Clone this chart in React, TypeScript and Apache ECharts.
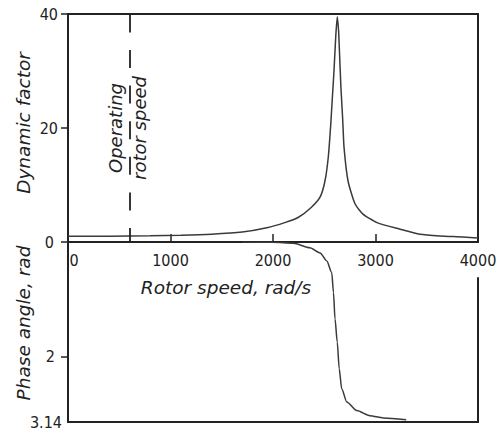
import React, { useEffect, useRef } from 'react';
import * as echarts from 'echarts';

// Rotor speed axis (rad/s)
const speedTicks = [0, 1000, 2000, 3000, 4000];
const operatingSpeed = 600;

// Dynamic factor curve
const dfSpeeds = [0, 400, 800, 1100, 1400, 1700, 1940, 2115, 2245, 2370, 2460, 2507, 2540, 2563, 2578, 2595, 2612, 2627, 2640, 2647, 2663, 2680, 2693, 2732, 2800, 2878, 3015, 3240, 3434, 3630, 3850, 4000];
const dfValues = [1.0, 1.03, 1.1, 1.2, 1.38, 1.75, 2.5, 3.4, 4.3, 6.0, 7.9, 10.7, 15.0, 20.5, 25, 30, 36, 39.5, 37, 34, 27, 21.5, 16.6, 10.7, 6.7, 4.9, 3.4, 2.24, 1.36, 1.06, 0.88, 0.7];

// Phase angle curve (rad)
const phaseSpeeds = [1700, 2000, 2200, 2360, 2460, 2525, 2573, 2590, 2605, 2627, 2646, 2670, 2720, 2817, 2946, 3076, 3300];
const phaseValues = [0, 0.005, 0.02, 0.1, 0.19, 0.33, 0.53, 0.88, 1.34, 1.75, 2.21, 2.56, 2.79, 2.94, 3.03, 3.07, 3.1];

const dfTicks = [0, 20, 40];
const phaseLabels = [2, 3.14];
const phaseTicks = [2];

const ink = '#222';
const curve = '#3a3a3a';
const titleFont = 'DejaVu Sans';
const tickFont = 'DejaVu Sans Condensed';

export default function App() {
  const ref = useRef<HTMLDivElement>(null);
  useEffect(() => {
    document.body.style.margin = '0';
    const chart = echarts.init(ref.current!, null, { renderer: 'svg' });
    const lineOnly = (extra: any) => ({
      type: 'value',
      axisLine: { show: true, onZero: false, lineStyle: { color: ink, width: 2 } },
      axisTick: { show: false },
      axisLabel: { show: false },
      splitLine: { show: false },
      ...extra,
    });
    const tickText = { color: ink, fontFamily: tickFont, fontSize: 16 };
    const noteText = { fontFamily: titleFont, fontStyle: 'italic', fontSize: 18, color: ink };
    const option: any = {
      animation: false,
      backgroundColor: '#fff',
      grid: [
        { left: 68, top: 14, width: 410, height: 228 },
        { left: 68, top: 242, width: 410, height: 180 },
        { left: 68, top: 278, width: 410, height: 144 },
      ],
      xAxis: [
        {
          gridIndex: 0,
          type: 'value',
          min: speedTicks[0],
          max: speedTicks[speedTicks.length - 1],
          interval: 1000,
          position: 'bottom',
          axisLine: { show: true, onZero: false, lineStyle: { color: ink, width: 2 } },
          axisTick: { show: true, inside: true, length: 8, lineStyle: { color: ink, width: 1.5 } },
          axisLabel: {
            margin: 10,
            ...tickText,
            formatter: (v: number) => (v === 0 ? '{l|0}' : String(v)),
            rich: { l: { ...tickText, padding: [0, 0, 0, 12] } },
          },
          splitLine: { show: false },
          name: 'Rotor speed, rad/s',
          nameLocation: 'middle',
          nameGap: 36,
          nameMoveOverlap: false,
          nameTextStyle: {
            fontFamily: titleFont,
            fontStyle: 'italic',
            fontSize: 18.5,
            color: ink,
            padding: [0, 94, 0, 0],
          },
        },
        lineOnly({ gridIndex: 0, min: 0, max: 4000, position: 'top' }),
        lineOnly({ gridIndex: 1, min: 0, max: 4000, position: 'bottom' }),
        { gridIndex: 2, type: 'value', min: 0, max: 4000, show: false },
      ],
      yAxis: [
        {
          gridIndex: 0,
          type: 'value',
          min: dfTicks[0],
          max: dfTicks[dfTicks.length - 1],
          interval: 20,
          axisLine: { show: true, onZero: false, lineStyle: { color: ink, width: 2 } },
          axisTick: { show: true, length: 7, lineStyle: { color: ink, width: 1.5 } },
          axisLabel: {
            margin: 10,
            ...tickText,
            formatter: (v: number) => (v === 0 ? '{p|0}' : String(v)),
            rich: { p: { ...tickText, padding: [0, 4, 0, 0] } },
          },
          splitLine: { show: false },
          name: 'Dynamic factor',
          nameLocation: 'middle',
          nameRotate: 90,
          nameGap: 35,
          nameMoveOverlap: false,
          nameTextStyle: {
            fontFamily: titleFont,
            fontStyle: 'italic',
            fontSize: 18.5,
            color: ink,
            padding: [0, 0, 0, 10],
          },
        },
        lineOnly({ gridIndex: 0, min: 0, max: 40, position: 'right' }),
        {
          gridIndex: 1,
          type: 'value',
          min: 0,
          max: 3.14,
          inverse: true,
          axisLine: { show: true, onZero: false, lineStyle: { color: ink, width: 2 } },
          axisTick: { show: true, length: 7, customValues: phaseTicks, lineStyle: { color: ink, width: 1.5 } },
          axisLabel: {
            margin: 6,
            ...tickText,
            customValues: phaseLabels,
            formatter: (v: number) => (v === 2 ? '{p|2}' : String(v)),
            rich: { p: { ...tickText, padding: [0, 7, 0, 0] } },
          },
          splitLine: { show: false },
          name: 'Phase angle, rad',
          nameLocation: 'middle',
          nameRotate: 90,
          nameGap: 35,
          nameMoveOverlap: false,
          nameTextStyle: {
            fontFamily: titleFont,
            fontStyle: 'italic',
            fontSize: 18.5,
            color: ink,
            padding: [0, 0, 0, 18],
          },
        },
        lineOnly({ gridIndex: 2, min: 0, max: 1, position: 'right' }),
      ],
      series: [
        {
          name: 'Dynamic factor',
          type: 'line',
          xAxisIndex: 0,
          yAxisIndex: 0,
          showSymbol: false,
          symbol: 'none',
          smooth: 0.2,
          lineStyle: { color: curve, width: 1.5 },
          data: dfSpeeds.map((s, i) => [s, dfValues[i]]),
          markLine: {
            silent: true,
            symbol: ['none', 'none'],
            data: [
              [
                {
                  coord: [operatingSpeed, 0],
                  lineStyle: { color: ink, width: 1.8, type: [18, 17.6], dashOffset: 4 },
                  label: { show: true, position: 'insideMiddleTop', formatter: 'Operating', distance: 5, ...noteText },
                },
                { coord: [operatingSpeed, 40] },
              ],
              [
                {
                  coord: [operatingSpeed, 0],
                  lineStyle: { color: 'rgba(0,0,0,0)', width: 1 },
                  label: { show: true, position: 'insideMiddleBottom', formatter: 'rotor speed', distance: 1, ...noteText },
                },
                { coord: [operatingSpeed, 40] },
              ],
            ],
          },
        },
        {
          name: 'Phase angle',
          type: 'line',
          xAxisIndex: 2,
          yAxisIndex: 2,
          showSymbol: false,
          symbol: 'none',
          smooth: 0.25,
          smoothMonotone: 'x',
          lineStyle: { color: curve, width: 1.5 },
          data: phaseSpeeds.map((s, i) => [s, phaseValues[i]]),
        },
      ],
    };
    chart.setOption(option);
    return () => chart.dispose();
  }, []);
  return <div ref={ref} style={{ width: 502, height: 432 }} />;
}
